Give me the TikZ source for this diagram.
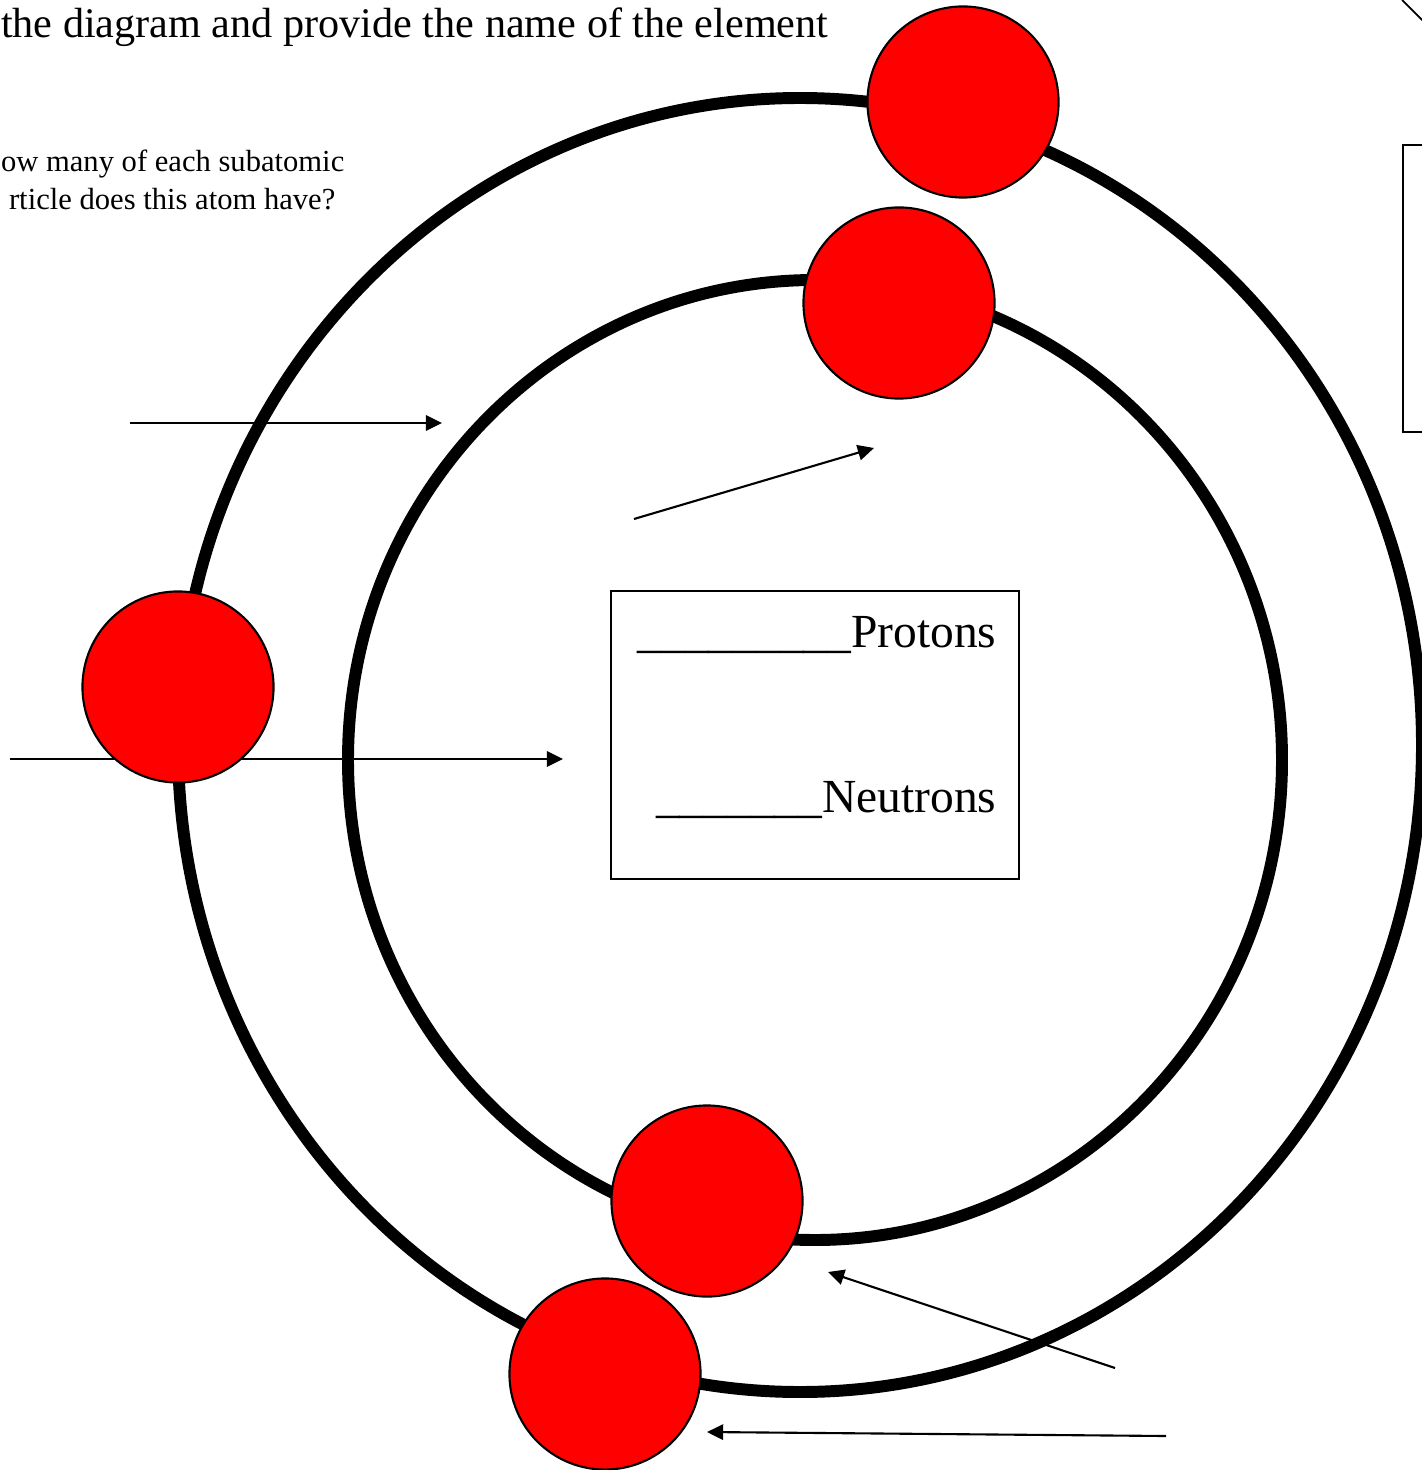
\documentclass[tikz,border=0pt]{standalone}
\usepackage{fontspec}
\setmainfont{Liberation Serif}
\usetikzlibrary{arrows.meta}
\begin{document}
\begin{tikzpicture}[x=0.01cm,y=-0.01cm,
  orbit/.style={line width=3.4pt},
  electron/.style={circle,draw,fill=red,line width=0.6pt,minimum size=1.91cm,inner sep=0pt},
  pointer/.style={line width=0.6pt,-{Triangle[length=4.6pt,width=4.4pt]}},
  label/.style={anchor=base east,inner sep=0pt}]
\useasboundingbox (0,0) rectangle (1421,1470);
\draw[orbit] (800,745) ellipse [x radius=622,y radius=647];
\draw[orbit] (815,760) ellipse [x radius=467,y radius=480];
\coordinate (p1s) at (130,423); \coordinate (p1e) at (442,423);
\coordinate (p2s) at (634,519); \coordinate (p2e) at (874,448);
\coordinate (p3s) at (10,759); \coordinate (p3e) at (563,759);
\coordinate (p4s) at (1115,1368); \coordinate (p4e) at (828,1272);
\coordinate (p5s) at (1166,1436); \coordinate (p5e) at (707,1432);
\draw[pointer] (p1s) -- (p1e);
\draw[pointer] (p2s) -- (p2e);
\draw[pointer] (p3s) -- (p3e);
\draw[pointer] (p4s) -- (p4e);
\draw[pointer] (p5s) -- (p5e);
\node[electron] (e1) at (963,102) {};
\node[electron] (e2) at (899,303) {};
\node[electron] (e3) at (178,687) {};
\node[electron] (e4) at (707,1201) {};
\node[electron] (e5) at (605,1374) {};
\node[draw,line width=0.5pt,minimum width=4.08cm,minimum height=2.88cm] (count) at (815,735) {};
\node[label,font=\fontsize{13.5}{16}\selectfont] (protons) at (997,647) {\_\_\_\_\_\_\_\_\_Protons};
\node[label,font=\fontsize{13.5}{16}\selectfont] (neutrons) at (997,812) {\_\_\_\_\_\_\_Neutrons};
\node[label,font=\fontsize{12}{14}\selectfont] (title) at (829,38) {the diagram and provide the name of the element};
\node[label,font=\fontsize{8.7}{10}\selectfont] (q1) at (345,172) {ow many of each subatomic};
\node[label,font=\fontsize{8.7}{10}\selectfont] (q2) at (336,210) {rticle does this atom have?};
\draw[line width=0.5pt] (1430,145) -- (1403,145) -- (1403,432) -- (1430,432);
\draw[line width=0.5pt] (1402,0) -- (1440,38);
\end{tikzpicture}
\end{document}
